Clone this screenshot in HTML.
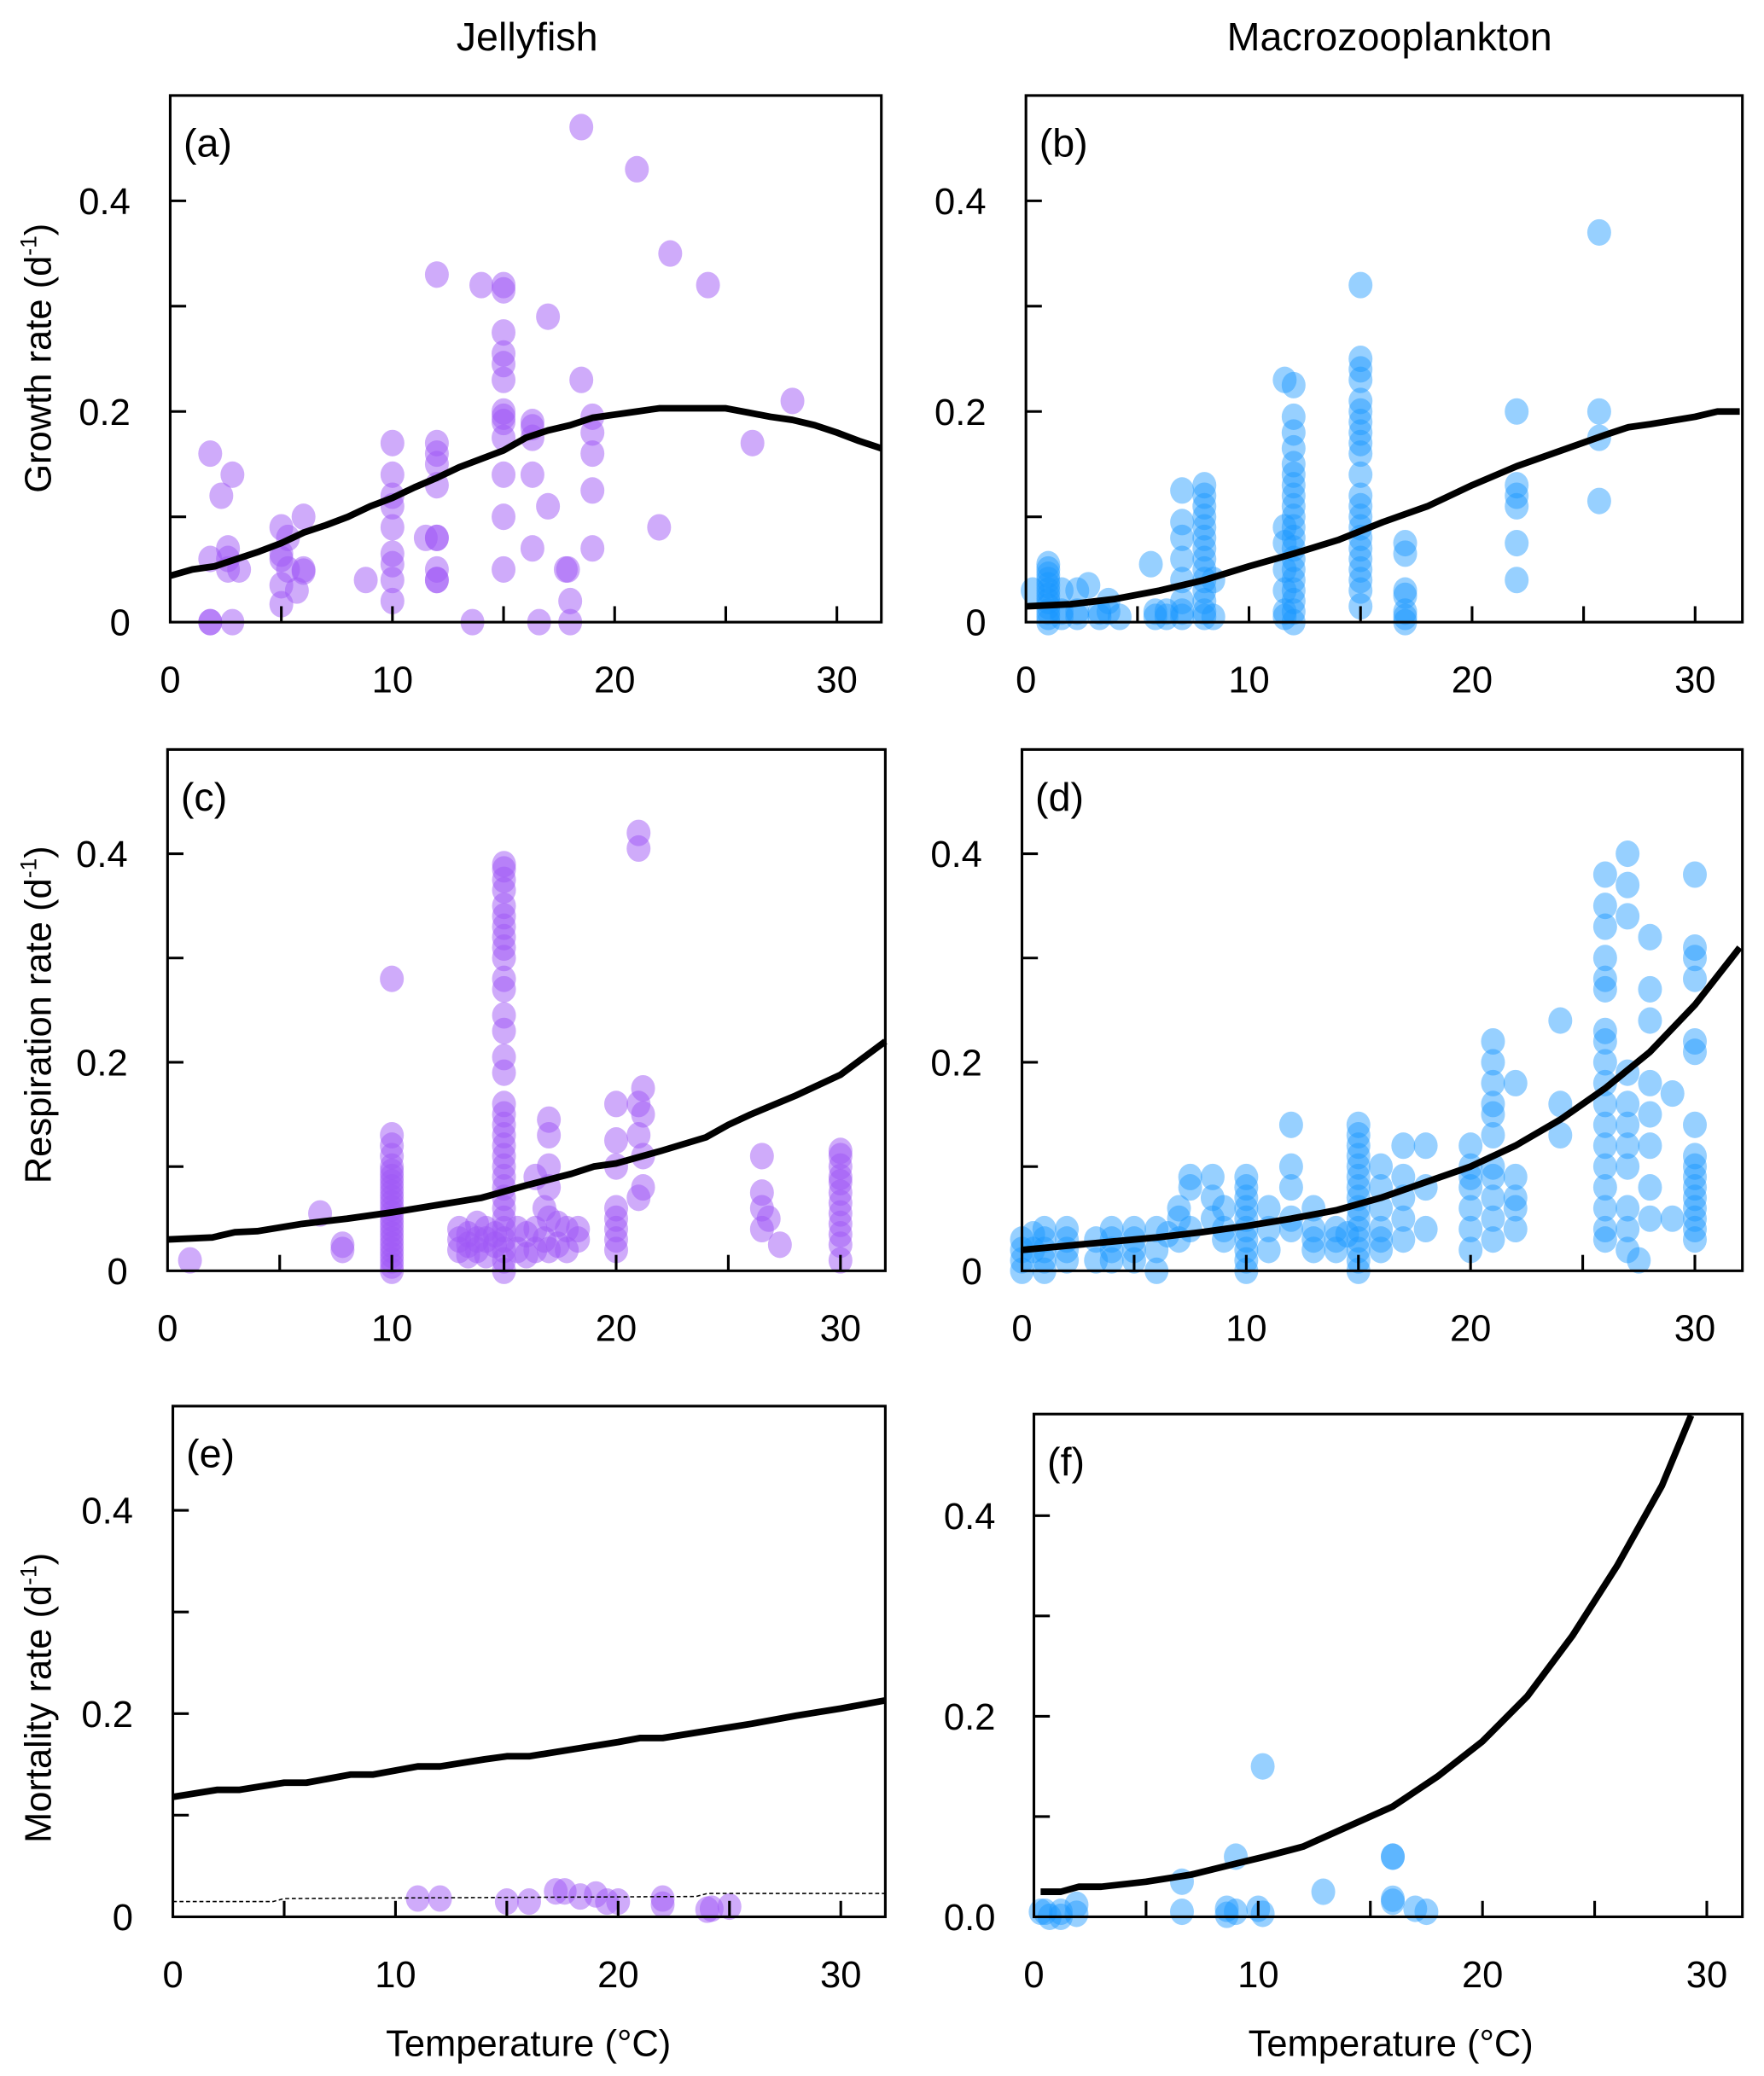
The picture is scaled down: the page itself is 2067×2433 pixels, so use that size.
<!DOCTYPE html>
<html><head><meta charset="utf-8">
<style>
html,body{margin:0;padding:0;background:#fff;}
svg{display:block;}
text{font-family:"Liberation Sans",sans-serif;fill:#000;}
</style></head>
<body>
<svg id="fig" width="2067" height="2433" viewBox="0 0 1329 1565" xmlns="http://www.w3.org/2000/svg">
<text x="397" y="38" font-size="30" text-anchor="middle">Jellyfish</text>
<text x="1047" y="38" font-size="30" text-anchor="middle">Macrozooplankton</text>
<text transform="translate(38,270) rotate(-90)" font-size="28" text-anchor="middle">Growth rate (d<tspan font-size="17" dy="-11">-1</tspan><tspan dy="11">)</tspan></text>
<text transform="translate(38,765) rotate(-90)" font-size="28" text-anchor="middle">Respiration rate (d<tspan font-size="17" dy="-11">-1</tspan><tspan dy="11">)</tspan></text>
<text transform="translate(38,1280) rotate(-90)" font-size="28" text-anchor="middle">Mortality rate (d<tspan font-size="17" dy="-11">-1</tspan><tspan dy="11">)</tspan></text>
<text x="398" y="1550" font-size="28" text-anchor="middle">Temperature (°C)</text>
<text x="1048" y="1550" font-size="28" text-anchor="middle">Temperature (°C)</text>
</svg>
<script>
// ---- data ----
const xTicks = [0, 10, 20, 30];
const yTickLabelsA = ["0", "0.2", "0.4"];
const yTickLabelsF = ["0.0", "0.2", "0.4"];
const yTickValues = [0, 0.2, 0.4];

const pointsA = [[1.8,0.16],[1.8,0.06],[1.8,0],[1.8,0],[2.3,0.12],[2.6,0.06],[2.6,0.07],[2.6,0.05],[2.8,0.14],[2.8,0],[3.1,0.05],[5,0.09],[5,0.065],[5,0.06],[5,0.035],[5,0.017],[5.3,0.08],[5.3,0.05],[5.7,0.03],[6,0.1],[6,0.05],[6,0.048],[8.8,0.04],[10,0.17],[10,0.14],[10,0.12],[10,0.11],[10,0.09],[10,0.065],[10,0.055],[10,0.04],[10,0.02],[11.5,0.08],[12,0.33],[12,0.17],[12,0.16],[12,0.15],[12,0.13],[12,0.08],[12,0.08],[12,0.05],[12,0.04],[12,0.04],[14,0.32],[13.6,0],[15,0.32],[15,0.315],[15,0.275],[15,0.255],[15,0.245],[15,0.23],[15,0.2],[15,0.195],[15,0.19],[15,0.175],[15,0.14],[15,0.1],[15,0.05],[16.3,0.19],[16.3,0.185],[16.3,0.175],[16.3,0.14],[16.3,0.07],[16.6,0],[17,0.29],[17,0.11],[17.8,0.05],[17.9,0.05],[18,0.02],[18,0],[18.5,0.47],[18.5,0.23],[19,0.195],[19,0.18],[19,0.16],[19,0.125],[19,0.07],[21,0.43],[22,0.09],[22.5,0.35],[24.2,0.32],[26.2,0.17],[28,0.21]];
const curveA = [[0,0.044],[1,0.05],[2,0.053],[3,0.06],[4,0.067],[5,0.075],[6,0.085],[7,0.092],[8,0.1],[9,0.11],[10,0.118],[11,0.128],[12,0.137],[13,0.147],[14,0.155],[15,0.163],[16,0.175],[17,0.182],[18,0.187],[19,0.194],[20,0.197],[21,0.2],[22,0.203],[23,0.203],[24,0.203],[25,0.203],[26,0.199],[27,0.195],[28,0.192],[29,0.187],[30,0.18],[31,0.172],[32,0.165]];

const pointsB = [[1,0.055],[1,0.05],[1,0.045],[1,0.04],[1,0.035],[1,0.03],[1,0.025],[1,0.02],[1,0.015],[1,0.01],[1,0.005],[1,0],[0.3,0.03],[1.6,0.03],[1.6,0.01],[1.6,0.005],[2.3,0.03],[2.3,0.01],[2.3,0.005],[2.8,0.035],[3.3,0.005],[3.3,0.01],[3.7,0.02],[3.7,0.01],[4.2,0.005],[5.6,0.055],[5.8,0.01],[5.8,0.005],[6.3,0.01],[6.3,0.005],[7,0.125],[7,0.095],[7,0.08],[7,0.06],[7,0.04],[7,0.02],[7,0.01],[7,0.005],[8,0.13],[8,0.12],[8,0.11],[8,0.1],[8,0.09],[8,0.08],[8,0.07],[8,0.06],[8,0.05],[8,0.04],[8,0.03],[8,0.02],[8,0.01],[8,0.005],[8.4,0.04],[8.4,0.005],[11.6,0.23],[11.6,0.09],[11.6,0.075],[11.6,0.05],[11.6,0.03],[11.6,0.01],[11.6,0.005],[12,0.225],[12,0.195],[12,0.18],[12,0.165],[12,0.15],[12,0.14],[12,0.13],[12,0.12],[12,0.11],[12,0.1],[12,0.09],[12,0.08],[12,0.07],[12,0.06],[12,0.05],[12,0.04],[12,0.03],[12,0.02],[12,0.01],[12,0],[15,0.32],[15,0.25],[15,0.24],[15,0.23],[15,0.21],[15,0.2],[15,0.19],[15,0.18],[15,0.17],[15,0.16],[15,0.14],[15,0.12],[15,0.11],[15,0.1],[15,0.09],[15,0.08],[15,0.07],[15,0.06],[15,0.05],[15,0.04],[15,0.03],[15,0.015],[17,0.075],[17,0.065],[17,0.03],[17,0.025],[17,0.01],[17,0.005],[17,0],[22,0.2],[22,0.13],[22,0.12],[22,0.11],[22,0.075],[22,0.04],[25.7,0.37],[25.7,0.2],[25.7,0.175],[25.7,0.115]];
const curveB = [[0,0.015],[2,0.017],[4,0.022],[6,0.03],[8,0.04],[10,0.053],[12,0.065],[14,0.078],[16,0.095],[18,0.11],[20,0.13],[22,0.148],[24,0.163],[26,0.178],[27,0.185],[28,0.188],[30,0.195],[31,0.2],[32,0.2]];

const pointsC = [[1,0.01],[6.8,0.055],[7.8,0.02],[7.8,0.025],[10,0.28],[10,0.13],[10,0.12],[10,0.11],[10,0.1],[10,0.095],[10,0.09],[10,0.085],[10,0.08],[10,0.075],[10,0.07],[10,0.065],[10,0.06],[10,0.055],[10,0.05],[10,0.045],[10,0.04],[10,0.035],[10,0.03],[10,0.025],[10,0.02],[10,0.015],[10,0.01],[10,0.005],[10,0],[13,0.04],[13,0.03],[13,0.02],[13.4,0.035],[13.4,0.025],[13.4,0.015],[13.8,0.045],[13.8,0.03],[13.8,0.02],[14.2,0.04],[14.2,0.03],[14.2,0.015],[14.6,0.035],[14.6,0.025],[15,0.39],[15,0.385],[15,0.375],[15,0.365],[15,0.35],[15,0.34],[15,0.33],[15,0.32],[15,0.31],[15,0.3],[15,0.28],[15,0.27],[15,0.245],[15,0.23],[15,0.205],[15,0.19],[15,0.16],[15,0.15],[15,0.14],[15,0.13],[15,0.12],[15,0.11],[15,0.1],[15,0.09],[15,0.08],[15,0.07],[15,0.06],[15,0.05],[15,0.04],[15,0.03],[15,0.02],[15,0.01],[15,0],[15.6,0.04],[15.6,0.02],[16,0.035],[16,0.015],[16.4,0.09],[16.4,0.04],[16.4,0.02],[16.8,0.06],[16.8,0.03],[17,0.145],[17,0.13],[17,0.1],[17,0.08],[17,0.05],[17,0.02],[17.4,0.045],[17.4,0.025],[17.8,0.04],[17.8,0.02],[18.3,0.04],[18.3,0.03],[20,0.16],[20,0.125],[20,0.1],[20,0.06],[20,0.05],[20,0.04],[20,0.03],[20,0.02],[21,0.42],[21,0.405],[21.2,0.175],[21,0.16],[21.2,0.15],[21,0.13],[21.2,0.11],[21,0.07],[21.2,0.08],[26.5,0.11],[26.5,0.075],[26.5,0.06],[26.5,0.04],[27.3,0.025],[26.8,0.05],[30,0.115],[30,0.11],[30,0.1],[30,0.09],[30,0.085],[30,0.075],[30,0.065],[30,0.055],[30,0.045],[30,0.035],[30,0.025],[30,0.01]];
const curveC = [[0,0.03],[2,0.032],[3,0.037],[4,0.038],[6,0.045],[8,0.05],[10,0.056],[12,0.063],[14,0.07],[16,0.082],[18,0.093],[19,0.1],[20,0.103],[22,0.115],[24,0.128],[25,0.14],[26,0.15],[28,0.168],[30,0.188],[32,0.22]];

const pointsD = [[0,0.03],[0,0.02],[0,0.01],[0,0],[0.5,0.035],[0.5,0.02],[1,0.04],[1,0.03],[1,0.02],[1,0.01],[1,0],[2,0.04],[2,0.03],[2,0.02],[2,0.01],[3.3,0.03],[3.3,0.01],[4,0.04],[4,0.03],[4,0.02],[4,0.01],[5,0.04],[5,0.03],[5,0.02],[5,0.01],[6,0.04],[6,0.02],[6,0],[6.5,0.035],[7,0.06],[7,0.05],[7,0.03],[7.5,0.09],[7.5,0.08],[7.5,0.04],[8.5,0.09],[8.5,0.07],[8.5,0.05],[9,0.06],[9,0.04],[9,0.03],[10,0.09],[10,0.08],[10,0.07],[10,0.06],[10,0.05],[10,0.04],[10,0.03],[10,0.02],[10,0.01],[10,0],[11,0.06],[11,0.04],[11,0.02],[12,0.14],[12,0.1],[12,0.08],[12,0.05],[12,0.04],[13,0.06],[13,0.04],[13,0.03],[13,0.02],[14,0.04],[14,0.03],[14,0.02],[14.5,0.035],[15,0.14],[15,0.13],[15,0.12],[15,0.11],[15,0.1],[15,0.09],[15,0.08],[15,0.07],[15,0.06],[15,0.05],[15,0.04],[15,0.03],[15,0.02],[15,0.01],[15,0],[16,0.1],[16,0.08],[16,0.06],[16,0.04],[16,0.03],[16,0.02],[17,0.12],[17,0.09],[17,0.07],[17,0.05],[17,0.03],[18,0.12],[18,0.08],[18,0.04],[20,0.12],[20,0.1],[20,0.09],[20,0.08],[20,0.06],[20,0.04],[20,0.02],[21,0.22],[21,0.2],[21,0.18],[21,0.16],[21,0.15],[21,0.13],[21,0.1],[21,0.09],[21,0.07],[21,0.05],[21,0.03],[22,0.18],[22,0.09],[22,0.07],[22,0.06],[22,0.04],[24,0.24],[24,0.16],[24,0.13],[26,0.38],[26,0.35],[26,0.33],[26,0.3],[26,0.28],[26,0.27],[26,0.23],[26,0.22],[26,0.2],[26,0.18],[26,0.16],[26,0.14],[26,0.12],[26,0.1],[26,0.08],[26,0.06],[26,0.04],[26,0.03],[27,0.4],[27,0.37],[27,0.34],[27,0.19],[27,0.16],[27,0.14],[27,0.12],[27,0.1],[27,0.06],[27,0.04],[27,0.02],[27.5,0.01],[28,0.32],[28,0.27],[28,0.24],[28,0.18],[28,0.15],[28,0.12],[28,0.08],[28,0.05],[29,0.17],[29,0.05],[30,0.38],[30,0.31],[30,0.3],[30,0.28],[30,0.22],[30,0.21],[30,0.14],[30,0.11],[30,0.1],[30,0.09],[30,0.08],[30,0.07],[30,0.06],[30,0.05],[30,0.04],[30,0.03]];
const curveD = [[0,0.02],[2,0.024],[4,0.028],[6,0.032],[8,0.037],[10,0.043],[12,0.05],[14,0.058],[16,0.07],[18,0.085],[20,0.1],[22,0.12],[24,0.145],[26,0.175],[28,0.21],[30,0.255],[32,0.31]];

const pointsE = [[11,0.018],[12,0.018],[15,0.015],[16,0.015],[17.2,0.025],[17.6,0.025],[18.3,0.02],[19,0.022],[19.5,0.015],[20,0.015],[22,0.018],[22,0.012],[24,0.007],[24.2,0.008],[25,0.01]];
const curveE = [[0,0.118],[2,0.125],[3,0.125],[5,0.132],[6,0.132],[8,0.14],[9,0.14],[11,0.148],[12,0.148],[14,0.155],[15,0.158],[16,0.158],[18,0.165],[20,0.172],[21,0.176],[22,0.176],[24,0.183],[26,0.19],[28,0.198],[30,0.205],[32,0.213]];
const dashedE = [[0,0.015],[4.5,0.015],[5,0.018],[23.5,0.02],[24,0.023],[32,0.023]];

const pointsF = [[0.3,0.005],[0.5,0.005],[0.7,0],[1.2,0.005],[1.2,0],[1.9,0.012],[1.9,0.003],[6.6,0.035],[6.6,0.005],[8.6,0.008],[8.6,0.002],[9,0.06],[9,0.005],[10,0.008],[10.2,0.15],[10.2,0.003],[12.9,0.025],[16,0.06],[16,0.06],[16,0.015],[16,0.018],[17,0.008],[17.5,0.005]];
const curveF = [[0.3,0.025],[1.2,0.025],[2,0.03],[3,0.03],[5,0.035],[7,0.042],[9,0.053],[10.3,0.06],[12,0.07],[13,0.08],[15,0.1],[16,0.11],[18,0.14],[20,0.175],[22,0.22],[24,0.28],[26,0.35],[28,0.43],[29.3,0.5]];

// ---- layout ----
const NS = "http://www.w3.org/2000/svg";
const svg = document.getElementById('fig');
const PURPLE = "rgba(160,88,245,0.5)";
const BLUE = "rgba(25,150,255,0.45)";
const panels = [
 {id:'a', L:128, R:664, T:72, B:469, x0:128, x1:664, y0:469, yTop:72, pts:pointsA, curve:curveA, col:PURPLE, labels:yTickLabelsA, tlx:98},
 {id:'b', L:773, R:1313, T:72, B:469, x0:773, x1:1311, y0:469, yTop:72, pts:pointsB, curve:curveB, col:BLUE, labels:yTickLabelsA, tlx:743},
 {id:'c', L:126, R:667, T:565, B:958, x0:126, x1:667, y0:958, yTop:565, pts:pointsC, curve:curveC, col:PURPLE, labels:yTickLabelsA, tlx:96},
 {id:'d', L:770, R:1313, T:565, B:958, x0:770, x1:1311, y0:958, yTop:565, pts:pointsD, curve:curveD, col:BLUE, labels:yTickLabelsA, tlx:740},
 {id:'e', L:130, R:667, T:1060, B:1445, x0:130, x1:667, y0:1445, yTop:1062, pts:pointsE, curve:curveE, dashed:dashedE, col:PURPLE, labels:yTickLabelsA, tlx:100},
 {id:'f', L:779, R:1313, T:1066, B:1445, x0:779, x1:1320, y0:1445, yTop:1067, pts:pointsF, curve:curveF, col:BLUE, labels:yTickLabelsF, tlx:750}
];
function mk(tag, attrs, parent){const e=document.createElementNS(NS,tag);for(const k in attrs)e.setAttribute(k,attrs[k]);(parent||svg).appendChild(e);return e;}

panels.forEach(p=>{
  const g = mk('g',{});
  
  
  const xs = t => p.x0 + (p.x1-p.x0)*t/32;
  const ys = v => p.y0 - (p.y0-p.yTop)*v/0.5;
  const pg = mk('g',{},g);
  
  
  p.pts.forEach(d=>{
    const c = mk('ellipse',{cx:xs(d[0]),cy:ys(d[1]),rx:9,ry:10,fill:p.col},pg);
    
    
  });
  const pl = mk('polyline',{points:p.curve.map(d=>xs(d[0])+','+ys(d[1])).join(' '),fill:'none',stroke:'#000','stroke-width':5,'stroke-linejoin':'round'},g);
  
  
  if(p.dashed){
    const dl = mk('polyline',{points:p.dashed.map(d=>xs(d[0])+','+ys(d[1])).join(' '),fill:'none',stroke:'#000','stroke-width':1,'stroke-dasharray':'3,2'},g);
    
    
  }
  const cl = mk('rect',{x:p.R+1.5,y:p.T-10,width:40,height:p.B-p.T+20,fill:'#fff'},g);
  
  
  const ct = mk('rect',{x:p.L-5,y:p.T-16,width:p.R-p.L+50,height:14.5,fill:'#fff'},g);
  
  
  const fr = mk('rect',{x:p.L,y:p.T,width:p.R-p.L,height:p.B-p.T,fill:'none',stroke:'#000','stroke-width':2},g);
  
  
  for(let t=5;t<=30;t+=5){
    const tk = mk('line',{x1:xs(t),x2:xs(t),y1:p.B,y2:p.B-12,stroke:'#000','stroke-width':2},g);
    
    
  }
  xTicks.forEach(t=>{
    const tx = mk('text',{x:xs(t),y:p.B+53,'font-size':28,'text-anchor':'middle'},g);
    tx.textContent = t;
    
    
  });
  for(let i=1;i<=4;i++){
    const v=i/10;
    const tk = mk('line',{x1:p.L,x2:p.L+12,y1:ys(v),y2:ys(v),stroke:'#000','stroke-width':2},g);
    
    
  }
  yTickValues.forEach((v,i)=>{
    const tx = mk('text',{x:p.tlx,y:ys(v)+10,'font-size':28,'text-anchor':'end'},g);
    tx.textContent = p.labels[i];
    
    
  });
  const lb = mk('text',{x:p.L+10,y:p.T+46,'font-size':30},g);
  lb.textContent = '('+p.id+')';
  
  
});
</script>
</body></html>
